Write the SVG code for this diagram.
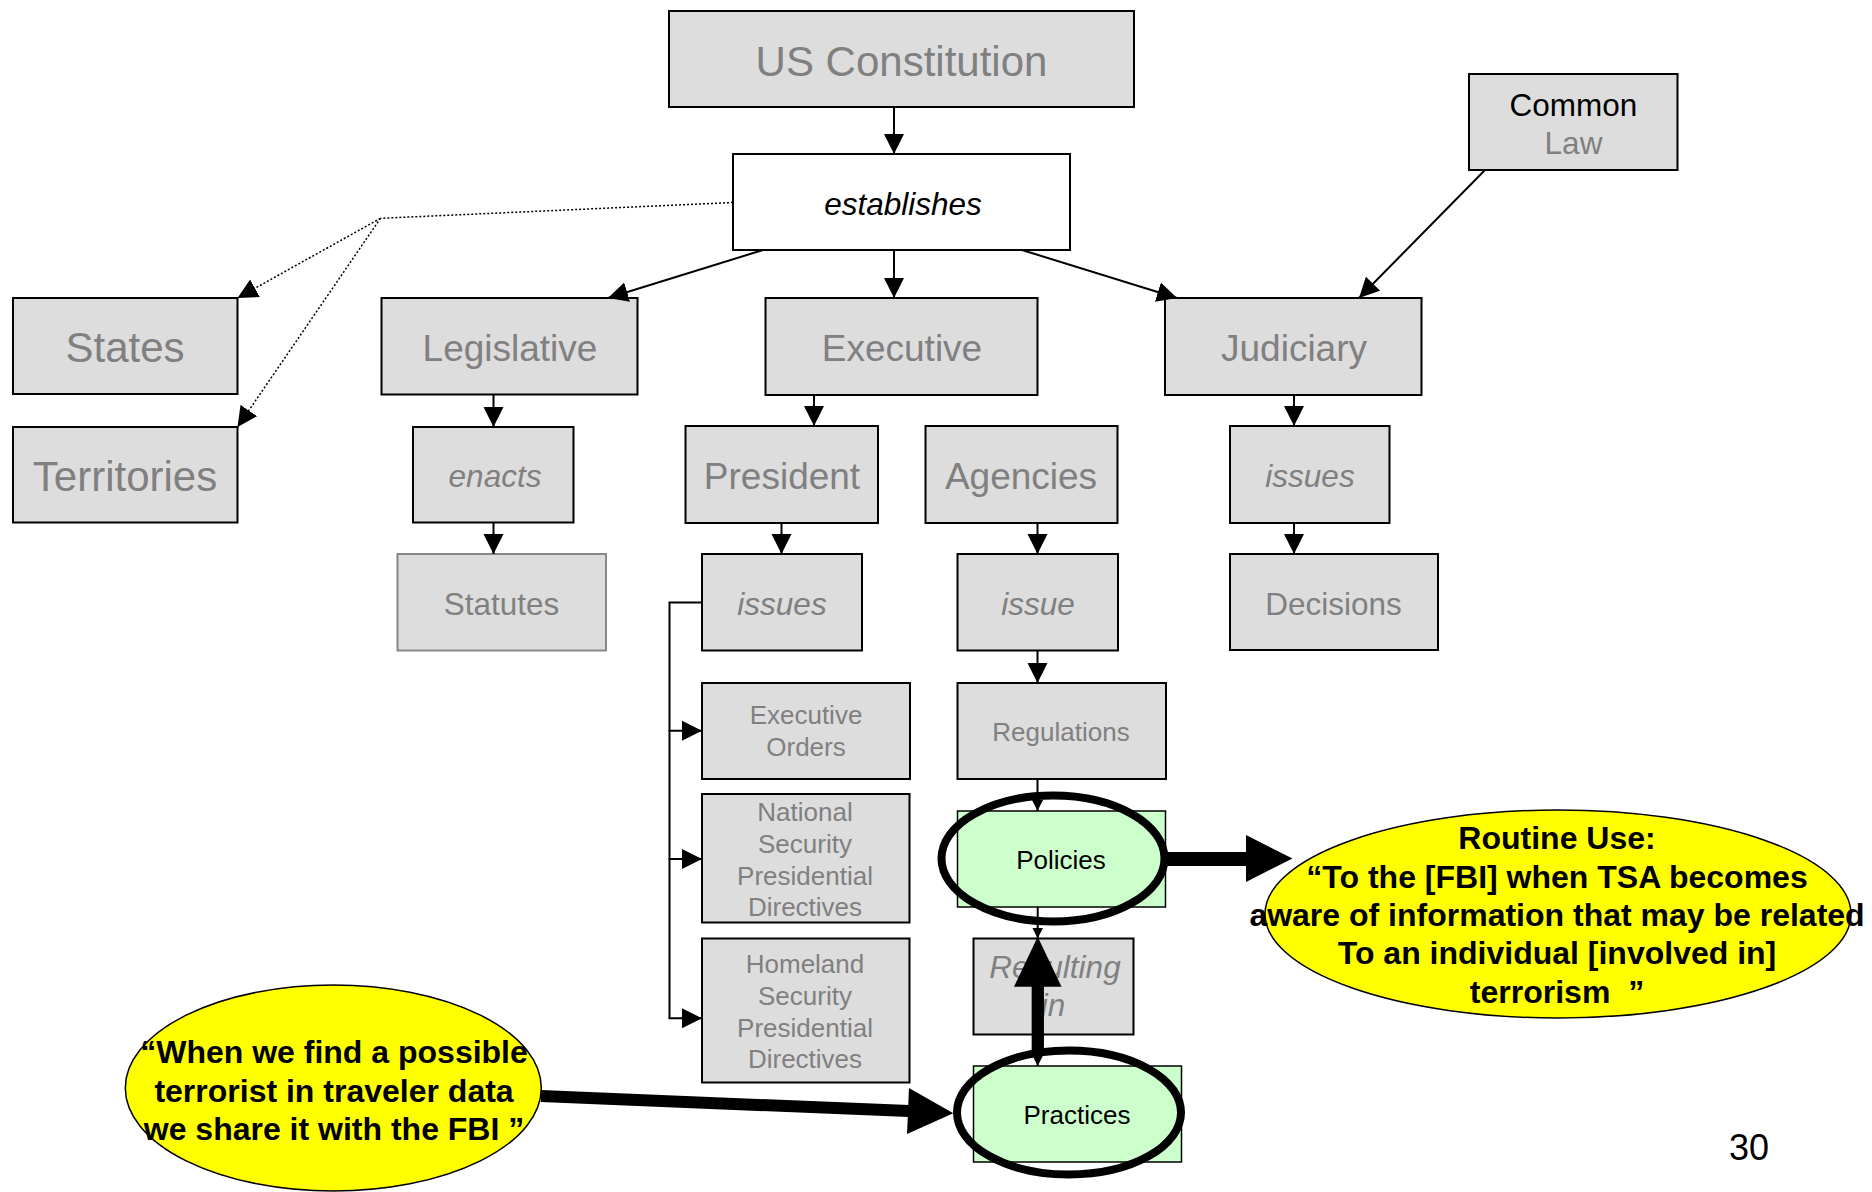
<svg xmlns="http://www.w3.org/2000/svg" width="1872" height="1192" viewBox="0 0 1872 1192">
<defs>
<style>
.box{fill:#DDDDDD;stroke:#000;stroke-width:2}
.wbox{fill:#FFFFFF;stroke:#000;stroke-width:2}
.gbox{fill:#DDDDDD;stroke:#888888;stroke-width:2}
.green{fill:#CCFFCC;stroke:#000;stroke-width:1.5}
.t{font-family:"Liberation Sans",Arial,sans-serif;fill:#808080;text-anchor:middle}
.k{fill:#000}
.it{font-style:italic}
.big{font-size:42px}
.mid{font-size:37px}
.sm{font-size:31.5px}
.xs{font-size:26px}
.note{font-family:"Liberation Sans",Arial,sans-serif;font-weight:bold;font-size:32px;fill:#000;text-anchor:middle}
.ln{stroke:#000;stroke-width:2;fill:none}
.dot{stroke:#000;stroke-width:1.5;fill:none;stroke-dasharray:2 2}
.ring{fill:none;stroke:#000;stroke-width:8}
.callout{fill:#FFFF00;stroke:#000;stroke-width:1.5}
</style>
<marker id="ah" viewBox="0 0 10 10" refX="10" refY="5" markerWidth="20" markerHeight="21" markerUnits="userSpaceOnUse" orient="auto"><path d="M0,0L10,5L0,10z" fill="#000"/></marker>
<marker id="as" viewBox="0 0 10 10" refX="10" refY="5" markerWidth="11" markerHeight="11" markerUnits="userSpaceOnUse" orient="auto"><path d="M0,0L10,5L0,10z" fill="#000"/></marker>
</defs>
<rect width="1872" height="1192" fill="#FFFFFF"/>

<g id="nodes">
<g id="us-constitution"><rect class="box" x="669" y="11" width="465" height="96"/><text class="t big" x="901.5" y="75.5">US Constitution</text></g>
<g id="establishes"><rect class="wbox" x="733" y="154" width="337" height="96"/><text class="t k it sm" x="903" y="215">establishes</text></g>
<g id="common-law"><rect class="box" x="1469" y="74" width="208.5" height="96"/><text class="t k sm" x="1573.5" y="116">Common</text><text class="t sm" x="1573.5" y="154">Law</text></g>
<g id="states"><rect class="box" x="13" y="298" width="224.5" height="96"/><text class="t big" x="125" y="362">States</text></g>
<g id="territories"><rect class="box" x="13" y="427" width="224.5" height="95.5"/><text class="t big" x="125" y="490.5">Territories</text></g>
<g id="legislative"><rect class="box" x="381.5" y="298" width="256" height="96.5"/><text class="t mid" x="510" y="361">Legislative</text></g>
<g id="executive"><rect class="box" x="765.5" y="298" width="272" height="97"/><text class="t mid" x="902" y="360.5">Executive</text></g>
<g id="judiciary"><rect class="box" x="1165" y="298" width="256.5" height="97"/><text class="t mid" x="1294" y="360.5">Judiciary</text></g>
<g id="enacts"><rect class="box" x="413" y="427" width="160.5" height="95.5"/><text class="t it sm" x="495" y="487">enacts</text></g>
<g id="president"><rect class="box" x="685.5" y="426" width="192.5" height="97"/><text class="t mid" x="782" y="488.5">President</text></g>
<g id="agencies"><rect class="box" x="925.5" y="426" width="192" height="97"/><text class="t mid" x="1021" y="488.5">Agencies</text></g>
<g id="judiciary-issues"><rect class="box" x="1230" y="426" width="159.5" height="97"/><text class="t it sm" x="1310" y="487">issues</text></g>
<g id="statutes"><rect class="gbox" x="397.5" y="554" width="208.5" height="96.5"/><text class="t sm" x="501.5" y="615">Statutes</text></g>
<g id="president-issues"><rect class="box" x="702" y="554" width="160" height="96.5"/><text class="t it sm" x="782" y="615">issues</text></g>
<g id="agencies-issue"><rect class="box" x="957.5" y="554" width="160.5" height="96.5"/><text class="t it sm" x="1038" y="615">issue</text></g>
<g id="decisions"><rect class="box" x="1230" y="554" width="208" height="96"/><text class="t sm" x="1333.5" y="614.5">Decisions</text></g>
<g id="executive-orders"><rect class="box" x="702" y="683" width="208" height="96"/><text class="t xs" x="806" y="724">Executive</text><text class="t xs" x="806" y="756">Orders</text></g>
<g id="regulations"><rect class="box" x="957.5" y="683" width="208.5" height="96"/><text class="t xs" x="1061" y="740.5">Regulations</text></g>
<g id="nspd"><rect class="box" x="702" y="794" width="207.5" height="128.5"/><text class="t xs" x="805" y="820.5">National</text><text class="t xs" x="805" y="852.5">Security</text><text class="t xs" x="805" y="884.5">Presidential</text><text class="t xs" x="805" y="916">Directives</text></g>
<g id="hspd"><rect class="box" x="702" y="938.5" width="207.5" height="144"/><text class="t xs" x="805" y="973.3">Homeland</text><text class="t xs" x="805" y="1005">Security</text><text class="t xs" x="805" y="1036.7">Presidential</text><text class="t xs" x="805" y="1068.3">Directives</text></g>
<g id="policies"><rect class="green" x="957.5" y="811" width="208" height="96"/><text class="t k xs" x="1061" y="868.5">Policies</text><ellipse class="ring" cx="1053" cy="858.5" rx="111.5" ry="63"/></g>
<g id="resulting-in"><rect class="box" x="973.5" y="938.5" width="160" height="96"/><text class="t it sm" x="1055" y="978">Resulting</text><text class="t it sm" x="1053" y="1016">in</text></g>
<g id="practices"><rect class="green" x="973.5" y="1066" width="208" height="96"/><text class="t k xs" x="1077" y="1124">Practices</text><ellipse class="ring" cx="1069" cy="1112.5" rx="112" ry="62"/></g>
<g id="routine-use"><ellipse class="callout" cx="1558" cy="914" rx="293" ry="104"/>
<text class="note" x="1557" y="849">Routine Use:</text>
<text class="note" x="1557" y="887.5">“To the [FBI] when TSA becomes</text>
<text class="note" x="1557" y="926">aware of information that may be related</text>
<text class="note" x="1557" y="964">To an individual [involved in]</text>
<text class="note" x="1557" y="1002.5" xml:space="preserve">terrorism  ”</text></g>
<g id="quote"><ellipse class="callout" cx="333.3" cy="1088" rx="208" ry="103"/>
<text class="note" x="334" y="1063.3">“When we find a possible</text>
<text class="note" x="334" y="1101.7">terrorist in traveler data</text>
<text class="note" x="334" y="1140">we share it with the FBI ”</text></g>
<text id="page-number" x="1729" y="1160" font-family="Liberation Sans, Arial, sans-serif" font-size="36" fill="#000">30</text>
</g>

<g id="connectors">
<line class="ln" x1="894" y1="107" x2="894" y2="154" marker-end="url(#ah)"/>
<line class="ln" x1="763" y1="250" x2="608" y2="298" marker-end="url(#ah)"/>
<line class="ln" x1="894" y1="250" x2="894" y2="298" marker-end="url(#ah)"/>
<line class="ln" x1="1022" y1="250" x2="1177" y2="298" marker-end="url(#ah)"/>
<line class="ln" x1="1485" y1="170" x2="1359" y2="298" marker-end="url(#ah)"/>
<polyline class="dot" points="733,202.5 380.5,218.3"/>
<line class="dot" x1="380.5" y1="218.3" x2="237.5" y2="298" marker-end="url(#ah)"/>
<line class="dot" x1="380.5" y1="218.3" x2="237.5" y2="427" marker-end="url(#ah)"/>
<line class="ln" x1="493.5" y1="394.5" x2="493.5" y2="427" marker-end="url(#ah)"/>
<line class="ln" x1="493.5" y1="522.5" x2="493.5" y2="554" marker-end="url(#ah)"/>
<line class="ln" x1="814" y1="395" x2="814" y2="426" marker-end="url(#ah)"/>
<line class="ln" x1="781.5" y1="523" x2="781.5" y2="554" marker-end="url(#ah)"/>
<line class="ln" x1="1037.5" y1="523" x2="1037.5" y2="554" marker-end="url(#ah)"/>
<line class="ln" x1="1294" y1="395" x2="1294" y2="426" marker-end="url(#ah)"/>
<line class="ln" x1="1294" y1="523" x2="1294" y2="554" marker-end="url(#ah)"/>
<line class="ln" x1="1037.5" y1="650.5" x2="1037.5" y2="683" marker-end="url(#ah)"/>
<path class="ln" d="M702,602.5H669.5V1018.3"/>
<line class="ln" x1="668.5" y1="730.7" x2="702" y2="730.7" marker-end="url(#ah)"/>
<line class="ln" x1="668.5" y1="859" x2="702" y2="859" marker-end="url(#ah)"/>
<line class="ln" x1="668.5" y1="1018.3" x2="702" y2="1018.3" marker-end="url(#ah)"/>
<line class="ln" x1="1037.5" y1="779" x2="1037.5" y2="811" marker-end="url(#as)"/>
<line class="ln" x1="1037.7" y1="907" x2="1037.7" y2="938.5" marker-end="url(#as)"/>
<line class="ln" x1="1037.7" y1="1034.5" x2="1037.7" y2="1066" marker-end="url(#as)"/>
<line stroke="#000" stroke-width="14" x1="1165" y1="859" x2="1247" y2="859"/>
<polygon points="1246,835 1292.5,858.5 1246,882" fill="#000"/>
<line stroke="#000" stroke-width="12.3" x1="1037.8" y1="1056" x2="1037.8" y2="985"/>
<polygon points="1014,986.7 1037.7,936.7 1061.5,986.7" fill="#000"/>
<line stroke="#000" stroke-width="12" x1="541" y1="1096" x2="909" y2="1111.1"/>
<polygon points="908.95,1088.1 953.3,1113.3 907.05,1134.1" fill="#000"/>
</g>
</svg>
